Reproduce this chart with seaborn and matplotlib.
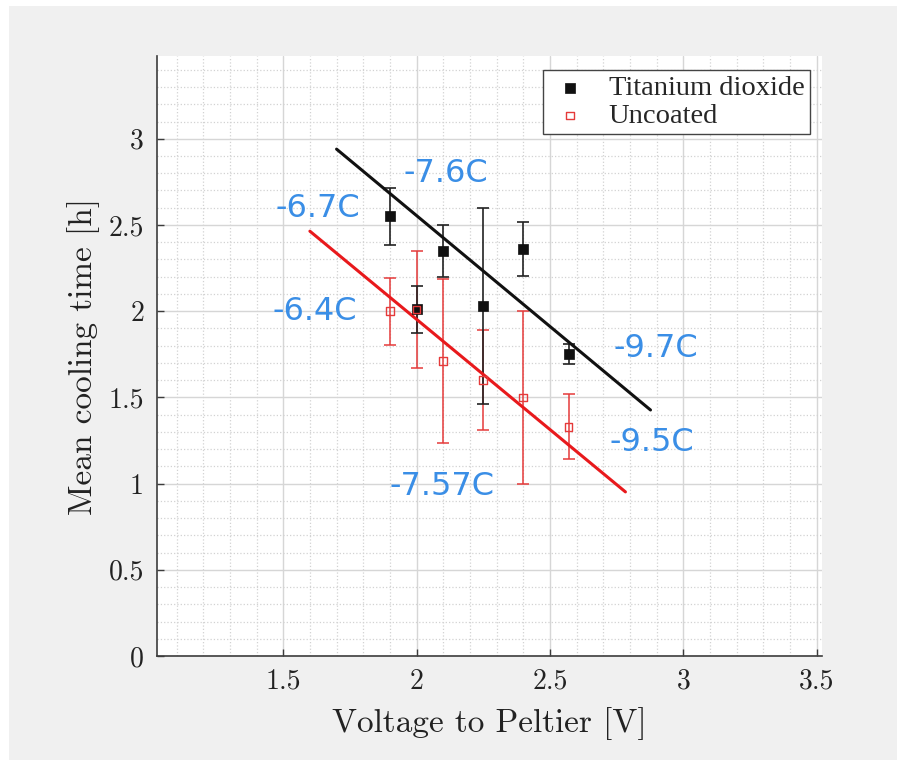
import numpy as np
import pandas as pd
import matplotlib
matplotlib.use('Agg')
import matplotlib.pyplot as plt
import seaborn as sns
from matplotlib.ticker import MultipleLocator, FuncFormatter
from matplotlib.patches import Rectangle

# ==========================================
# DATA
# ==========================================
voltage = [1.9, 2.0, 2.1, 2.25, 2.4, 2.57]

tio2_time = [2.55, 2.01, 2.35, 2.03, 2.36, 1.75]
tio2_err = [0.165, 0.135, 0.15, 0.57, 0.155, 0.057]

uncoated_time = [2.0, 2.01, 1.71, 1.60, 1.50, 1.33]
uncoated_err = [0.195, 0.34, 0.475, 0.29, 0.5, 0.19]

# fitted trend lines (end points)
tio2_fit_x = [1.70, 2.877]
tio2_fit_y = [2.94, 1.427]
uncoated_fit_x = [1.60, 2.783]
uncoated_fit_y = [2.464, 0.952]

# temperature labels
temp_labels = ['-7.6C', '-6.7C', '-6.4C', '-9.7C', '-9.5C', '-7.57C']
temp_x = [2.108, 1.631, 1.62, 2.896, 2.883, 2.095]
temp_y = [2.80, 2.598, 2.0, 1.783, 1.237, 0.985]

df = pd.DataFrame({
    'voltage': voltage * 2,
    'time': tio2_time + uncoated_time,
    'err': tio2_err + uncoated_err,
    'coating': ['Titanium dioxide'] * len(voltage) + ['Uncoated'] * len(voltage),
})
fit_df = pd.DataFrame({
    'voltage': tio2_fit_x + uncoated_fit_x,
    'time': tio2_fit_y + uncoated_fit_y,
    'coating': ['Titanium dioxide'] * 2 + ['Uncoated'] * 2,
})

# ==========================================
# FIGURE
# ==========================================
sns.set_style('white')
plt.rcParams['font.family'] = ['DejaVu Sans']

fig = plt.figure(figsize=(8.97, 7.6), dpi=100, facecolor='white')
fig.patches.append(Rectangle((9 / 897, 0), 1, 1 - 6 / 760, transform=fig.transFigure,
                             facecolor='#f0f0f0', edgecolor='none', zorder=-10))
ax = fig.add_axes([0.1745, 0.1368, 0.7419, 0.7895])
ax.set_facecolor('white')

black = '#111111'
red = '#e8191c'

tio2 = df[df['coating'] == 'Titanium dioxide']
unc = df[df['coating'] == 'Uncoated']

ax.errorbar(unc['voltage'], unc['time'], yerr=unc['err'], fmt='none',
            ecolor='#e53a3a', elinewidth=1.1, capsize=4, capthick=1.1, zorder=3)
ax.errorbar(tio2['voltage'], tio2['time'], yerr=tio2['err'], fmt='none',
            ecolor='#222222', elinewidth=1.2, capsize=4.5, capthick=1.2, zorder=4)

sns.lineplot(data=fit_df[fit_df['coating'] == 'Titanium dioxide'], x='voltage', y='time',
             color=black, lw=2.2, ax=ax, legend=False, zorder=5)
sns.lineplot(data=fit_df[fit_df['coating'] == 'Uncoated'], x='voltage', y='time',
             color=red, lw=2.2, ax=ax, legend=False, zorder=5)

sns.scatterplot(data=tio2, x='voltage', y='time', marker='s', s=42, color=black,
                edgecolor=black, linewidth=0.5, ax=ax, label='Titanium dioxide', zorder=6)
sns.scatterplot(data=unc, x='voltage', y='time', marker='s', s=30, facecolor='none',
                edgecolor='#e53a3a', linewidth=1.0, ax=ax, label='Uncoated', zorder=6)

for lab, tx, ty in zip(temp_labels, temp_x, temp_y):
    ax.text(tx, ty, lab, color='#3a8ee6', fontsize=23, ha='center', va='center', zorder=7)

# axes
ax.set_xlim(1.025, 3.52)
ax.set_ylim(0, 3.48)
ax.xaxis.set_major_locator(MultipleLocator(0.5))
ax.yaxis.set_major_locator(MultipleLocator(0.5))
ax.xaxis.set_minor_locator(MultipleLocator(0.1))
ax.yaxis.set_minor_locator(MultipleLocator(0.1))
fmt = FuncFormatter(lambda v, p: '%g' % round(v, 2))
ax.xaxis.set_major_formatter(fmt)
ax.yaxis.set_major_formatter(fmt)

ax.grid(which='major', color='#d6d6d6', lw=1.0, ls='-')
ax.grid(which='minor', color='#d2d2d2', lw=0.9, ls=':')
ax.set_axisbelow(True)

for s in ['top', 'right']:
    ax.spines[s].set_visible(False)
for s in ['left', 'bottom']:
    ax.spines[s].set_color('#3c3c3c')
    ax.spines[s].set_linewidth(1.2)

ax.tick_params(which='major', direction='in', length=5, width=1, color='#3c3c3c',
               labelsize=20, pad=9, left=True, bottom=True)
ax.tick_params(which='minor', length=0)
for t in ax.get_xticklabels() + ax.get_yticklabels():
    t.set_fontfamily('cmr10')
    t.set_color('#222222')

ax.set_xlabel('Voltage to Peltier [V]', fontsize=24, family='cmr10', color='#222222', labelpad=9)
ax.set_ylabel('Mean cooling time [h]', fontsize=24, family='cmr10', color='#222222', labelpad=6)

leg = ax.legend(loc='upper right', bbox_to_anchor=(0.982, 0.977), frameon=True, fancybox=False,
                prop={'family': 'Liberation Serif', 'size': 20.5}, labelspacing=0.05,
                borderpad=0.2, handletextpad=0.6, handlelength=1.5, borderaxespad=0)
leg.get_frame().set_edgecolor('#444444')
leg.get_frame().set_linewidth(1.0)
leg.get_frame().set_facecolor('white')
leg.get_frame().set_alpha(1)

plt.savefig('out.png', dpi=100, facecolor=fig.get_facecolor())
plt.close()
